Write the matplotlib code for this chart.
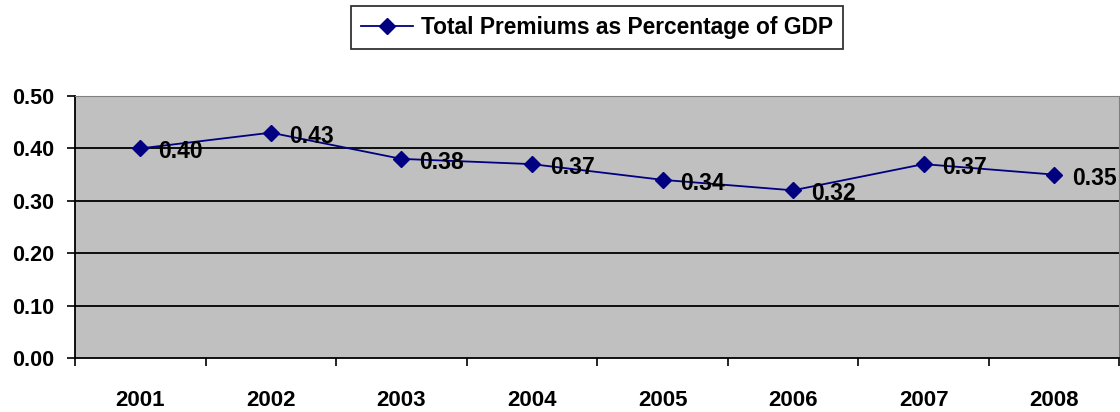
import matplotlib
matplotlib.use("Agg")
import matplotlib.pyplot as plt
from matplotlib.ticker import FixedLocator, FormatStrFormatter

years = ["2001", "2002", "2003", "2004", "2005", "2006", "2007", "2008"]
premium_pct_gdp = [0.40, 0.43, 0.38, 0.37, 0.34, 0.32, 0.37, 0.35]
series_name = "Total Premiums as Percentage of GDP"
y_ticks = [0.0, 0.1, 0.2, 0.3, 0.4, 0.5]

plt.rcParams["font.family"] = ["Liberation Sans", "DejaVu Sans"]
plt.rcParams["font.weight"] = "bold"

fig = plt.figure(figsize=(11.2, 4.12), dpi=100)
ax = fig.add_axes([0.067, 0.131, 0.9325, 0.636])
ax.set_facecolor("#c0c0c0")

x = [i + 0.5 for i in range(len(years))]
ax.plot(x, premium_pct_gdp, color="#000080", linewidth=1.3, marker="D",
        markersize=8, markerfacecolor="#000080", markeredgecolor="#000080",
        label=series_name, zorder=3)

for xi, val in zip(x, premium_pct_gdp):
    ax.annotate(f"{val:.2f}", (xi, val), textcoords="offset points",
                xytext=(13, -2.5), ha="left", va="center", fontsize=16.5,
                fontweight="bold", color="black", zorder=4)

ax.set_xlim(0, len(years))
ax.set_ylim(0, 0.5)

# category labels sit between the boundary ticks
ax.xaxis.set_major_locator(FixedLocator(x))
ax.set_xticklabels(years, fontsize=16, fontweight="bold")
ax.xaxis.set_minor_locator(FixedLocator(range(len(years) + 1)))
ax.tick_params(axis="x", which="major", length=0, pad=23)
ax.tick_params(axis="x", which="minor", length=6, width=1.2, direction="out",
               color="black")

ax.set_yticks(y_ticks)
ax.yaxis.set_major_formatter(FormatStrFormatter("%.2f"))
ax.tick_params(axis="y", length=6, width=1.2, direction="out", pad=9,
               labelsize=15.5)
for lbl in ax.get_yticklabels():
    lbl.set_fontweight("bold")

for yv in y_ticks[1:-1]:
    ax.axhline(yv, color="black", linewidth=1.3, zorder=1)

ax.spines["left"].set_color("black")
ax.spines["left"].set_linewidth(1.3)
ax.spines["bottom"].set_color("black")
ax.spines["bottom"].set_linewidth(1.3)
ax.spines["top"].set_color("#808080")
ax.spines["right"].set_color("#808080")

leg = fig.legend(loc="center", bbox_to_anchor=(0.533, 0.933), fontsize=16.4,
                 frameon=True, fancybox=False, edgecolor="black",
                 handlelength=2.28, borderpad=0.45, handletextpad=0.35)
leg.get_frame().set_linewidth(1.3)
for t in leg.get_texts():
    t.set_fontweight("bold")

fig.savefig("out.png", dpi=100)
